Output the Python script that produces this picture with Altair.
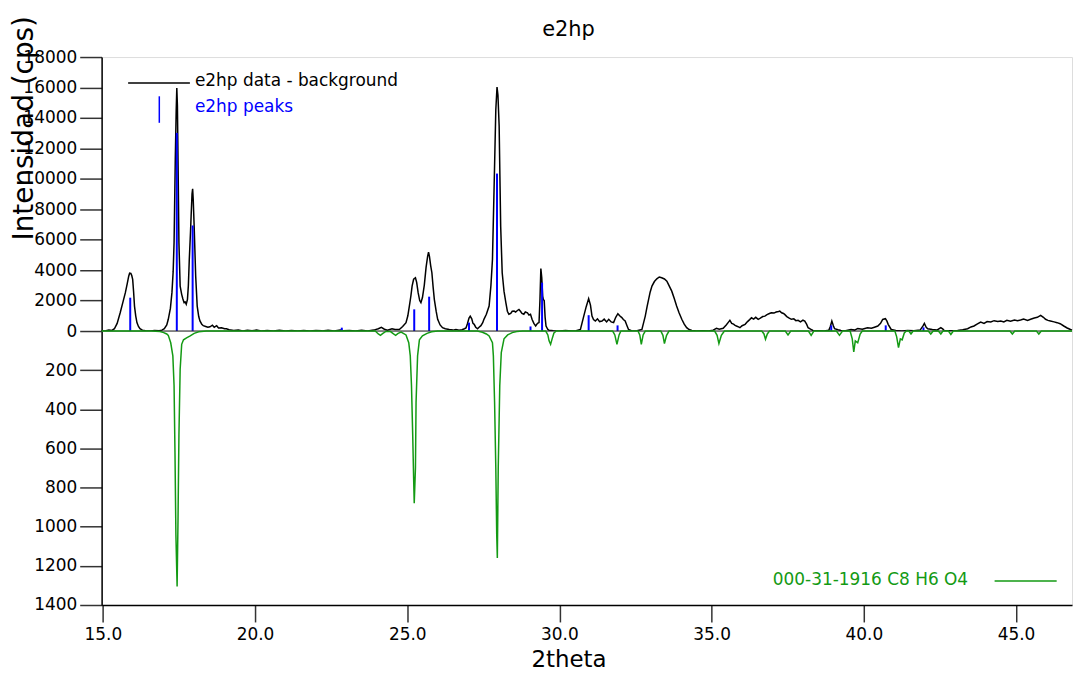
import altair as alt
import pandas as pd

FONT = "DejaVu Sans"

# ---- observed pattern (data - background), 2theta / cps ----
tt_obs = [14.96, 15.10, 15.20, 15.30, 15.38, 15.47, 15.57, 15.66, 15.74, 15.80, 15.85, 15.88, 15.92, 15.95, 15.98,
          16.01, 16.04, 16.08, 16.12, 16.17, 16.22, 16.30, 16.40, 16.55, 16.70, 16.85, 16.94, 17.02, 17.10, 17.15,
          17.22, 17.27, 17.31, 17.34, 17.38, 17.41, 17.43, 17.45, 17.47, 17.50, 17.54, 17.59, 17.63, 17.67, 17.71,
          17.74, 17.78, 17.81, 17.84, 17.88, 17.90, 17.93, 17.95, 17.97, 18.00, 18.05, 18.10, 18.15, 18.19, 18.25,
          18.30, 18.38, 18.45, 18.52, 18.60, 18.66, 18.74, 18.80, 18.90, 19.00, 19.06, 19.15, 19.30, 19.45, 19.60,
          19.75, 19.90, 20.05, 20.20, 20.40, 20.60, 20.80, 21.00, 21.20, 21.40, 21.60, 21.80, 22.00, 22.20, 22.40,
          22.60, 22.80, 22.90, 23.10, 23.30, 23.50, 23.70, 23.90, 24.05, 24.15, 24.25, 24.35, 24.50, 24.60, 24.74,
          24.85, 24.96, 25.02, 25.07, 25.12, 25.16, 25.21, 25.27, 25.31, 25.36, 25.41, 25.45, 25.50, 25.56, 25.62,
          25.67, 25.70, 25.73, 25.77, 25.81, 25.85, 25.89, 25.95, 26.00, 26.08, 26.16, 26.25, 26.38, 26.50, 26.60,
          26.70, 26.80, 26.88, 26.93, 26.98, 27.03, 27.07, 27.12, 27.16, 27.20, 27.25, 27.31, 27.36, 27.42, 27.48,
          27.52, 27.60, 27.69, 27.75, 27.80, 27.85, 27.91, 27.95, 27.98, 28.02, 28.05, 28.07, 28.12, 28.18, 28.24,
          28.29, 28.34, 28.40, 28.45, 28.51, 28.56, 28.62, 28.67, 28.72, 28.77, 28.83, 28.88, 28.95, 29.00, 29.05,
          29.10, 29.16, 29.22, 29.28, 29.33, 29.36, 29.39, 29.42, 29.45, 29.47, 29.50, 29.53, 29.56, 29.62, 29.66,
          29.80, 30.00, 30.20, 30.40, 30.55, 30.69, 30.80, 30.88, 30.96, 31.02, 31.07, 31.12, 31.18, 31.25, 31.32,
          31.40, 31.47, 31.55, 31.62, 31.70, 31.78, 31.85, 31.92, 31.98, 32.05, 32.10, 32.16, 32.22, 32.27, 32.38,
          32.55, 32.71, 32.76, 32.82, 32.88, 32.93, 32.98, 33.04, 33.12, 33.20, 33.28, 33.36, 33.45, 33.53, 33.61,
          33.69, 33.77, 33.85, 33.93, 34.02, 34.10, 34.18, 34.26, 34.35, 34.50, 34.70, 34.90, 35.05, 35.16, 35.25,
          35.38, 35.48, 35.56, 35.60, 35.66, 35.72, 35.77, 35.85, 35.93, 36.00, 36.10, 36.18, 36.25, 36.31, 36.38,
          36.45, 36.53, 36.60, 36.68, 36.75, 36.82, 36.90, 36.96, 37.05, 37.12, 37.20, 37.24, 37.30, 37.36, 37.40,
          37.47, 37.55, 37.62, 37.70, 37.77, 37.84, 37.92, 38.00, 38.06, 38.12, 38.17, 38.25, 38.33, 38.50, 38.70,
          38.85, 38.90, 38.95, 39.00, 39.04, 39.15, 39.25, 39.40, 39.58, 39.70, 39.80, 39.95, 40.12, 40.25, 40.35,
          40.46, 40.55, 40.62, 40.71, 40.76, 40.80, 40.90, 41.05, 41.25, 41.44, 41.65, 41.85, 41.95, 41.99, 42.05,
          42.10, 42.25, 42.40, 42.53, 42.60, 42.64, 42.85, 43.08, 43.25, 43.41, 43.52, 43.62, 43.72, 43.84, 43.95,
          44.05, 44.17, 44.28, 44.40, 44.50, 44.60, 44.70, 44.82, 44.95, 45.05, 45.15, 45.25, 45.38, 45.48, 45.60,
          45.70, 45.81, 45.90, 45.97, 46.05, 46.13, 46.25, 46.35, 46.45, 46.57, 46.68, 46.79, 46.84]
i_obs = [0, 20, 60, 40, 150, 500, 1200, 1900, 2520, 3100, 3600, 3800, 3780, 3650, 3390,
         2600, 1640, 1000, 550, 300, 150, 60, 20, 0, 30, 20, 60, 150, 400, 770,
         1500, 2520, 3900, 5800, 11260, 14500, 15970, 14800, 11260, 5800, 2950, 2410, 2100, 1860, 1900,
         1760, 2080, 3000, 4700, 6500, 7540, 9000, 9340, 8600, 6890, 3610, 1640, 950, 660, 450,
         350, 300, 250, 280, 380, 250, 350, 200, 220, 150, 150, 80, 40, 60, 0,
         50, 20, 60, 0, 40, 0, 50, 0, 40, 0, 30, 0, 40, 10, 50,
         0, 60, 20, 40, 0, 50, 0, 60, 150, 240, 120, 60, 150, 100, 100,
         300, 550, 1000, 1640, 2300, 2950, 3400, 3500, 3200, 2500, 2000, 1860, 2200, 3000, 4200,
         4900, 5180, 4900, 4300, 3830, 2900, 2080, 1300, 770, 400, 220, 150, 100, 60, 100,
         50, 80, 150, 200, 500, 850, 980, 800, 500, 440, 250, 150, 250, 350, 550,
         770, 1100, 1640, 3000, 4700, 9080, 14540, 16030, 15500, 13450, 9500, 6890, 3830, 2600, 1860,
         1300, 1100, 1150, 1300, 1310, 1250, 1350, 1420, 1300, 1150, 1100, 1250, 1200, 1050, 1100,
         770, 500, 330, 500, 550, 2000, 4110, 3500, 2300, 2080, 2000, 900, 330, 100, 50,
         20, 0, 30, 0, 20, 100, 980, 1600, 2130, 1700, 980, 750, 660, 800, 620,
         660, 780, 600, 770, 600, 550, 900, 1140, 1000, 880, 760, 660, 350, 100, 0,
         20, 100, 500, 980, 1600, 2080, 2550, 2950, 3250, 3430, 3550, 3500, 3420, 3280, 2950,
         2620, 2150, 1640, 1200, 770, 450, 220, 100, 40, 0, 20, 0, 60, 180, 120,
         180, 400, 600, 700, 500, 450, 370, 300, 220, 350, 440, 620, 750, 870, 780,
         900, 770, 850, 950, 980, 1080, 1150, 1200, 1180, 1250, 1280, 1310, 1200, 1150, 1090,
         950, 850, 770, 800, 680, 700, 600, 720, 650, 450, 220, 120, 40, 20, 0,
         50, 300, 650, 350, 150, 80, 40, 20, 100, 60, 170, 120, 220, 180, 250,
         330, 500, 760, 810, 650, 440, 100, 40, 0, 40, 20, 60, 350, 500, 250,
         150, 100, 60, 220, 120, 40, 20, 40, 80, 150, 270, 330, 450, 590, 500,
         620, 590, 680, 620, 660, 600, 700, 650, 720, 680, 720, 780, 700, 770, 850,
         900, 1030, 900, 770, 700, 660, 600, 550, 480, 330, 200, 100, 60]

# ---- identified peaks (sticks) ----
tt_pk = [15.90, 17.43, 17.95, 22.85, 25.23, 25.72, 27.03, 27.95, 29.05, 29.43, 30.96, 31.91, 38.93, 40.72, 41.96]
i_pk = [2190, 13015, 6934, 220, 1424, 2257, 551, 10345, 300, 3175, 1040, 370, 372, 372, 240]

# ---- reference card 000-31-1916 (plotted downward) ----
tt_ref = [14.96, 16.60, 16.88, 17.00, 17.10, 17.15, 17.23, 17.30, 17.34, 17.37, 17.40, 17.44, 17.47, 17.50, 17.54,
          17.59, 17.65, 17.75, 17.87, 18.00, 18.15, 18.40, 23.95, 24.05, 24.12, 24.20, 24.30, 24.45, 24.55, 24.62,
          24.70, 24.80, 24.96, 25.05, 25.10, 25.14, 25.18, 25.21, 25.23, 25.27, 25.29, 25.34, 25.40, 25.50, 25.65,
          25.80, 26.00, 27.30, 27.47, 27.60, 27.69, 27.80, 27.83, 27.87, 27.91, 27.94, 27.96, 27.99, 28.04, 28.09,
          28.18, 28.30, 28.45, 28.60, 28.80, 29.55, 29.62, 29.66, 29.71, 29.76, 29.82, 29.90, 31.75, 31.82, 31.89,
          31.96, 32.02, 32.58, 32.64, 32.69, 32.75, 32.82, 33.33, 33.40, 33.45, 33.52, 33.60, 35.10, 35.18, 35.24,
          35.32, 35.42, 36.65, 36.72, 36.77, 36.83, 36.90, 37.42, 37.51, 37.60, 38.18, 38.27, 38.36, 39.10, 39.20,
          39.30, 39.55, 39.62, 39.67, 39.72, 39.80, 39.88, 39.95, 41.02, 41.08, 41.14, 41.20, 41.26, 41.33, 41.40,
          41.48, 41.55, 41.62, 42.12, 42.20, 42.28, 42.45, 42.53, 42.60, 42.78, 42.86, 42.94, 44.80, 44.88, 44.96,
          45.67, 45.75, 45.83, 46.84]
i_ref = [0, 0, 3, 8, 15, 22, 60, 127, 280, 620, 1040, 1305, 960, 530, 195,
         68, 45, 35, 25, 12, 4, 0, 0, 15, 22, 12, 2, 3, 15, 22,
         12, 5, 20, 60, 127, 280, 530, 750, 880, 700, 365, 127, 45, 25, 12,
         4, 0, 0, 6, 15, 25, 60, 127, 365, 700, 1040, 1160, 700, 280, 110,
         40, 20, 8, 2, 0, 0, 20, 50, 68, 40, 10, 0, 0, 20, 68,
         20, 0, 0, 20, 68, 20, 0, 0, 22, 64, 22, 0, 0, 22, 64,
         22, 0, 0, 15, 42, 15, 0, 0, 20, 0, 0, 22, 0, 0, 22,
         0, 0, 40, 107, 50, 60, 15, 0, 0, 30, 85, 40, 45, 10, 0,
         0, 15, 0, 0, 15, 0, 0, 15, 0, 0, 18, 0, 0, 15, 0,
         0, 15, 0, 0]

x_ticks = [15, 20, 25, 30, 35, 40, 45]
y_up_ticks = [0, 2000, 4000, 6000, 8000, 10000, 12000, 14000, 16000, 18000]
y_dn_ticks = [200, 400, 600, 800, 1000, 1200, 1400]

X_DOMAIN = [14.96, 46.84]
W = 974
BLUE = "#0000ff"
GREEN = "#139a13"

obs = pd.DataFrame({"tt": tt_obs, "i": i_obs})
pk = pd.DataFrame({"tt": tt_pk, "i": i_pk})
ref = pd.DataFrame({"tt": tt_ref, "i": i_ref})
one = pd.DataFrame({"a": [0]})

axis_style = dict(labelFont=FONT, labelFontSize=17, labelColor="black", domainColor="black", domainWidth=1.5,
                  tickColor="#333333", tickWidth=1.5, grid=False, labelOverlap=False, labelFlush=False)

xs = alt.Scale(domain=X_DOMAIN, nice=False, zero=False)
upper_x = alt.X("tt:Q", scale=xs, axis=None)
upper_y = alt.Y("i:Q", scale=alt.Scale(domain=[0, 18000], nice=False),
                axis=alt.Axis(values=y_up_ticks, format="d", tickSize=22, labelPadding=3,
                              title="Intensidad (cps)",
                              titleFont=FONT, titleFontSize=28, titleFontWeight="normal", titleColor="black",
                              titleAngle=270, titleAlign="center", titleBaseline="middle",
                              titleX=-77, titleY=71, **axis_style))

line_obs = alt.Chart(obs).mark_line(color="black", strokeWidth=1.5).encode(x=upper_x, y=upper_y)
sticks = alt.Chart(pk).mark_rule(color=BLUE, strokeWidth=2).encode(x=upper_x, y=upper_y, y2=alt.datum(0))

leg_line = alt.Chart(one).mark_rule(color="black", strokeWidth=1.5).encode(
    x=alt.value(26.6), x2=alt.value(88.6), y=alt.value(26))
leg_tick = alt.Chart(one).mark_rule(color=BLUE, strokeWidth=1.5).encode(
    x=alt.value(57.9), y=alt.value(39.4), y2=alt.value(66))
leg_t1 = alt.Chart(one).mark_text(text="e2hp data - background", align="left", baseline="alphabetic",
                                  font=FONT, fontSize=17, color="black").encode(
    x=alt.value(93.6), y=alt.value(28.7))
leg_t2 = alt.Chart(one).mark_text(text="e2hp peaks", align="left", baseline="alphabetic",
                                  font=FONT, fontSize=17, color=BLUE).encode(
    x=alt.value(93.6), y=alt.value(55.6))
title_t = alt.Chart(one).mark_text(text="e2hp", align="center", baseline="alphabetic",
                                   font=FONT, fontSize=21, color="black").encode(
    x=alt.value(468.6), y=alt.value(-21.3))

upper = alt.layer(line_obs, sticks, leg_line, leg_tick, leg_t1, leg_t2, title_t).properties(width=W, height=275)

lower_x = alt.X("tt:Q", scale=xs,
                axis=alt.Axis(values=x_ticks, format=".1f", tickSize=17, labelPadding=5, title="2theta",
                              titleFont=FONT, titleFontSize=23, titleFontWeight="normal", titleColor="black",
                              titleBaseline="alphabetic", titleX=468.6, titleY=62, **axis_style))
lower_y = alt.Y("i:Q", scale=alt.Scale(domain=[0, 1400], nice=False, reverse=True),
                axis=alt.Axis(values=y_dn_ticks, format="d", tickSize=22, labelPadding=3, title=None,
                              **axis_style))

zero_rule = alt.Chart(one).mark_rule(color="#222222", strokeWidth=1.2).encode(
    x=alt.value(0), x2=alt.value(W), y=alt.value(0))
line_ref = alt.Chart(ref).mark_line(color=GREEN, strokeWidth=1.5).encode(x=lower_x, y=lower_y)
leg_g_t = alt.Chart(one).mark_text(text="000-31-1916 C8 H6 O4", align="left", baseline="alphabetic",
                                   font=FONT, fontSize=17, color=GREEN).encode(
    x=alt.value(673.6), y=alt.value(254.5))
leg_g_l = alt.Chart(one).mark_rule(color=GREEN, strokeWidth=1.5).encode(
    x=alt.value(896.3), x2=alt.value(958.6), y=alt.value(251))

lower = alt.layer(zero_rule, line_ref, leg_g_t, leg_g_l).properties(width=W, height=275)

chart = alt.vconcat(upper, lower, spacing=0, bounds="flush").properties(
    padding={"left": 10, "top": 13, "right": 0, "bottom": 0},
    background="white",
).configure_view(stroke=None).configure(font=FONT)

chart.save("out.html", embed_options={"renderer": "svg", "actions": False})
